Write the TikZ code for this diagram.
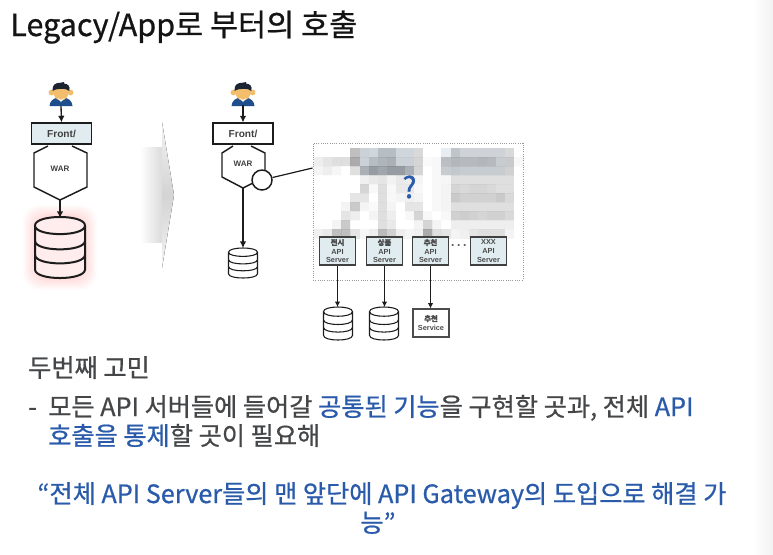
\documentclass[tikz,border=0pt]{standalone}
\usepackage{fontspec}
\setmainfont[FakeBold=0.7]{Noto Sans CJK KR}
\newfontfamily\labelfont[FakeBold=1.2]{Noto Sans CJK KR}
\newfontfamily\arialb{Liberation Sans}
\usetikzlibrary{arrows.meta,shapes.geometric}
\definecolor{iceblue}{HTML}{E0ECEF}
\definecolor{inkblue}{HTML}{2A5BAB}
\definecolor{inkgray}{HTML}{444648}
\definecolor{lineink}{HTML}{1C1C1C}
\definecolor{shirtblue}{HTML}{1F4E8C}
\definecolor{skin}{HTML}{F2BE6E}
\definecolor{hairdark}{HTML}{1B2430}
\newcommand{\dbstack}[5]{% cx, top, half-width, height, fill
  \begin{scope}[shift={(#1,#2)},xscale=#3,yscale=#4,line width=#5]
    \fill[dbfill] (-1,.14) -- (-1,.86) .. controls (-1,1.047) and (1,1.047) .. (1,.86) -- (1,.14) .. controls (1,-.047) and (-1,-.047) .. (-1,.14) -- cycle;
    \draw[lineink] (-1,.14) -- (-1,.86) .. controls (-1,1.047) and (1,1.047) .. (1,.86) -- (1,.14) .. controls (1,-.047) and (-1,-.047) .. (-1,.14) .. controls (-1,.327) and (1,.327) .. (1,.14);
    \draw[lineink] (-1,.39) .. controls (-1,.577) and (1,.577) .. (1,.39);
    \draw[lineink] (-1,.62) .. controls (-1,.807) and (1,.807) .. (1,.62);
  \end{scope}}
\tikzset{
  dbfill/.style={fill=white},
  frontbox/.style={draw=lineink,line width=1.1pt,fill=iceblue,minimum width=45pt,minimum height=15.5pt,inner sep=0pt,
     font=\arialb\bfseries\fontsize{7.6pt}{9pt}\selectfont,text=black!75},
  apibox/.style={draw=black!75,line width=.8pt,fill=iceblue,minimum width=27.5pt,minimum height=21pt,inner sep=0pt,align=center,
     font=\arialb\bfseries\fontsize{5.5pt}{6.6pt}\selectfont,text=black!70},
  flow/.style={-{Latex[length=5pt,width=5pt]},draw=lineink,line width=1pt},
  thinflow/.style={-{Latex[length=4pt,width=4pt]},draw=lineink,line width=.7pt},
  body/.style={anchor=base west,inner sep=0pt,text=inkgray,font=\fontsize{18.9pt}{22pt}\selectfont},
  callout/.style={anchor=base,inner sep=0pt,text=inkblue,font=\fontsize{18.9pt}{23pt}\selectfont},
  warlabel/.style={inner sep=0pt,font=\arialb\bfseries\fontsize{6pt}{7pt}\selectfont,text=black!75},
  pics/person/.style={code={
    \fill[shirtblue] (-11.5,24) .. controls (-11,18) and (-7,16.5) .. (-3,15.5) -- (3,15.5) .. controls (7,16.5) and (11,18) .. (11.5,24) -- cycle;
    \fill[skin] (-9.5,10.5) circle (2.2pt) (9.5,10.5) circle (2.2pt);
    \fill[skin] (0,10.5) ellipse (5.6pt and 6pt);
    \fill[white] (-3.5,16) -- (0,20) -- (3.5,16) -- (0,18) -- cycle;
    \fill[hairdark] (-8.3,9) .. controls (-9.5,3) and (-5,.5) .. (-1,.8) -- (3,0) -- (3,1.5) .. controls (7,2) and (9.5,4) .. (8.3,9) .. controls (6,6) and (-5,6) .. (-8.3,9) -- cycle;
  }}
}
\begin{document}
\begin{tikzpicture}[x=.75pt,y=-.75pt]
\useasboundingbox (0,0) rectangle (773,554);
\fill[white] (0,0) rectangle (773,554);
\fill[left color=white,right color=black!5] (752,0) rectangle (773,554);

% title
\node[anchor=base west,inner sep=0pt,text=black!92,font=\fontsize{22.9pt}{25pt}\selectfont] (title) at (10,36) {Legacy/App로 부터의 호출};

% left stack
\pic at (61,82) {person};
\coordinate (u1) at (61,106);
\node[frontbox] (f1) at (61.5,133.5) {Front/};
\draw[lineink,line width=1.1pt,fill=white] (48,146) -- (34,153) -- (34,187) -- (60,200) -- (87,187) -- (87,153) -- (72,146);
\coordinate (h1) at (60,200);
\node[warlabel] (w1) at (60,169) {WAR};
\foreach \g in {12,...,1}{
  \fill[red!60!orange,opacity=.01,rounded corners=12pt] ({35-\g},{217-\g}) rectangle ({85+\g},{278+\g});
}
\tikzset{dbfill/.style={fill=red!7!white}}
\dbstack{60}{217}{25}{61}{1.5pt}
\tikzset{dbfill/.style={fill=white}}
\coordinate (d1) at (60,218);
\draw[flow] (u1) -- (f1.north);
\draw[flow] (h1) -- (d1);

% big arrow
\fill[left color=white,right color=black!14] (140,147) rectangle (162,242);
\fill[top color=black!5,bottom color=black!5,middle color=black!17] (162,122) -- (174,195) -- (162,268) -- cycle;

% right stack
\pic at (243,82) {person};
\coordinate (u2) at (243,105);
\node[frontbox,fill=white] (f2) at (243,133.5) {Front/};
\draw[lineink,line width=1.1pt,fill=white] (233,146) -- (222,153) -- (222,177) -- (243,188) -- (265,177) -- (265,153) -- (251,146);
\coordinate (h2) at (243,188);
\node[warlabel] (w2) at (243,164) {WAR};
\dbstack{243}{248}{14.5}{30}{.8pt}
\coordinate (d2) at (243,248);
\draw[flow] (u2) -- (f2.north);
\draw[flow] (h2) -- (d2);
\node[circle,draw=lineink,line width=1.1pt,fill=white,minimum size=15pt,inner sep=0pt] (lens) at (262,180) {};

% blurred map
\begin{scope}[opacity=.82]
\foreach \vals [count=\r from 0] in {
 {100,100,100,100,70,82,85,72,72,85,85,82,100,100,95,75,82,82,82,82,82,82,100},
 {92,88,85,85,60,82,72,68,65,82,82,80,98,97,72,68,70,70,68,70,78,75,97},
 {95,92,96,100,85,65,55,60,55,55,65,80,100,97,78,76,78,78,78,78,78,78,100},
 {100,100,100,100,100,93,90,88,94,90,92,95,100,97,96,85,85,85,85,85,85,85,100},
 {100,100,100,100,100,80,97,85,97,90,90,97,100,97,95,80,82,80,80,82,85,85,100},
 {100,100,100,100,88,88,100,85,97,95,93,95,100,97,95,75,78,78,78,78,75,82,100},
 {100,100,100,95,75,95,98,85,95,100,88,88,100,97,95,85,85,85,85,85,85,85,100},
 {100,100,100,88,92,100,95,85,92,100,97,80,97,100,97,78,76,78,80,78,78,82,100},
 {100,100,95,75,100,100,100,85,90,100,100,95,80,95,100,92,92,92,92,92,92,92,100},
 {93,90,70,70,88,96,92,68,78,92,95,93,60,85,88,95,93,88,85,85,85,95,100}}{
  \foreach \v [count=\c from 0] in \vals {
    \fill[black!\the\numexpr100-\v\relax!white] ({314+9.1*\c},{148.4+9*\r}) rectangle ({314+9.1*\c+9.3},{148.4+9*\r+9.2});
  }
}
\end{scope}
\fill[cyan!50!blue,opacity=.07] (359.5,148.4) rectangle (414,175);
\fill[cyan!50!blue,opacity=.05] (441,148.4) rectangle (505,175);
\node[draw=black!40,densely dotted,line width=.7pt,minimum width=157.5pt,minimum height=102.75pt,inner sep=0pt] (map) at (418,211.5) {};
\node[inner sep=0pt,text=inkblue,font=\labelfont\fontsize{22pt}{24pt}\selectfont] (q) at (409.5,187) {?};
\draw[lineink,line width=.9pt] (lens) -- (map.west |- 0,168);

% api boxes
\node[apibox] (a1) at (337.5,251) {{\labelfont 전시}\\API\\Server};
\node[apibox] (a2) at (384.5,251) {{\labelfont 상품}\\API\\Server};
\node[apibox] (a3) at (430.5,251) {{\labelfont 추천}\\API\\Server};
\node[apibox] (a4) at (488.5,251) {XXX\\API\\Server};
\node[inner sep=0pt,text=black!70,font=\arialb\bfseries\fontsize{9pt}{9pt}\selectfont] (dots) at (459,247) {·\,·\,·};

% bottom row
\coordinate (d3) at (338,307);
\coordinate (d4) at (384,307);
\dbstack{338}{307}{14.5}{33}{.8pt}
\dbstack{384}{307}{14.5}{33}{.8pt}
\node[draw=black!70,line width=.8pt,fill=white,minimum width=27pt,minimum height=21pt,inner sep=0pt,align=center,font=\arialb\bfseries\fontsize{5.5pt}{7pt}\selectfont,text=black!70] (svc) at (431,323) {{\labelfont 추천}\\Service};
\draw[thinflow] (a1.south) -- (a1.south |- d3);
\draw[thinflow] (a2.south) -- (a2.south |- d4);
\draw[thinflow] (a3.south) -- (a3.south |- svc.north);

% text
\node[body] (t1) at (28,377) {두번째 고민};
\node[body] (t2) at (28,416) {-};
\node[body] (t3) at (48,416) {모든 API 서버들에 들어갈 \textcolor{inkblue}{공통된 기능}을 구현할 곳과, 전체 \textcolor{inkblue}{API}};
\node[body] (t4) at (48,445) {\textcolor{inkblue}{호출을 통제}할 곳이 필요해};
\node[callout] (t5) at (382,503) {“전체 API Server들의 맨 앞단에 API Gateway의 도입으로 해결 가};
\node[callout] (t6) at (378,532) {능”};
\end{tikzpicture}
\end{document}
